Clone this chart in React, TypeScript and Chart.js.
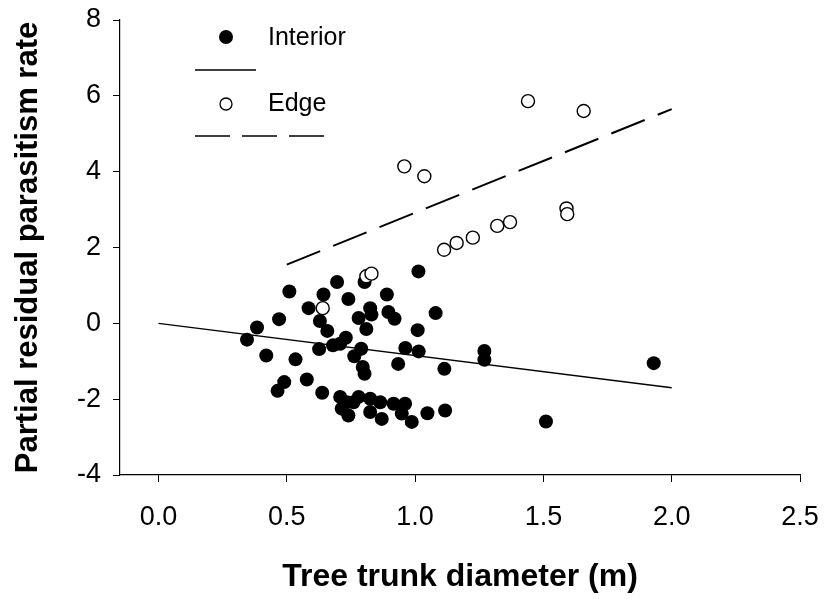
import React, { useEffect, useRef } from "react";
import { Chart, registerables } from "chart.js";

Chart.register(...registerables);

// Interior trees (filled circles)
const interiorX = [
  0.345, 0.384, 0.42, 0.47, 0.464, 0.49, 0.51, 0.534, 0.578, 0.585,
  0.626, 0.629, 0.638, 0.643, 0.658, 0.68, 0.696, 0.708, 0.708, 0.714,
  0.73, 0.734, 0.74, 0.74, 0.76, 0.763, 0.78, 0.78, 0.79, 0.796,
  0.803, 0.803, 0.81, 0.825, 0.83, 0.825, 0.825, 0.864, 0.87, 0.89,
  0.896, 0.916, 0.92, 0.934, 0.948, 0.961, 0.962, 0.987, 1.01, 1.013,
  1.014, 1.048, 1.08, 1.114, 1.117, 1.27, 1.27, 1.51, 1.93,
];
const interiorY = [
  -0.43, -0.11, -0.85, 0.11, -1.78, -1.55, 0.84, -0.95, -1.48, 0.4,
  -0.68, 0.06, -1.83, 0.76, -0.2, -0.58, 1.09, -0.54, -1.94, -2.25,
  -0.38, -2.08, 0.64, -2.43, -2.08, -0.87, 0.14, -1.94, -0.67, -1.15,
  -1.33, 1.09, -0.15, 0.4, 0.23, -1.99, -2.34, -2.08, -2.52, 0.76,
  0.3, -2.12, 0.12, -1.07, -2.38, -2.12, -0.65, -2.6, -0.18, 1.37,
  -0.74, -2.37, 0.27, -1.2, -2.3, -0.73, -0.96, -2.59, -1.05,
];

// Edge trees (open circles)
const edgeX = [0.64, 0.81, 0.83, 0.958, 1.036, 1.113, 1.162, 1.225, 1.32, 1.37, 1.44, 1.59, 1.593, 1.657];
const edgeY = [0.4, 1.24, 1.31, 4.14, 3.88, 1.94, 2.12, 2.26, 2.57, 2.67, 5.86, 3.03, 2.88, 5.6];

// Fitted lines
const interiorFitX = [0, 2.0];
const interiorFitY = [0, -1.7];
const edgeFitX = [0.5, 2.0];
const edgeFitY = [1.55, 5.65];

// Axes
const xTicks = [0, 0.5, 1.0, 1.5, 2.0, 2.5];
const yTicks = [-4, -2, 0, 2, 4, 6, 8];
const legendLabels = ["Interior", "Edge"];
const xTitle = "Tree trunk diameter (m)";
const yTitle = "Partial residual parasitism rate";

const FONT = "'Liberation Sans', Arial, Helvetica, sans-serif";

const toPts = (xs: number[], ys: number[]) => xs.map((x, i) => ({ x, y: ys[i] }));

const legendPlugin = {
  id: "customLegend",
  afterDraw(chart: any) {
    const ctx = chart.ctx;
    ctx.save();
    // Interior marker
    ctx.fillStyle = "#000";
    ctx.beginPath();
    ctx.arc(226, 37, 7, 0, Math.PI * 2);
    ctx.fill();
    ctx.font = `25px ${FONT}`;
    ctx.textBaseline = "middle";
    ctx.textAlign = "left";
    ctx.fillText(legendLabels[0], 268, 38);
    // Interior line
    ctx.strokeStyle = "#000";
    ctx.lineWidth = 1.3;
    ctx.beginPath();
    ctx.moveTo(195, 70);
    ctx.lineTo(256, 70);
    ctx.stroke();
    // Edge marker
    ctx.fillStyle = "#fff";
    ctx.lineWidth = 1.3;
    ctx.beginPath();
    ctx.arc(226, 104, 6, 0, Math.PI * 2);
    ctx.fill();
    ctx.stroke();
    ctx.fillStyle = "#000";
    ctx.fillText(legendLabels[1], 268, 104);
    // Edge dashed line
    ctx.setLineDash([35, 12]);
    ctx.beginPath();
    ctx.moveTo(195, 136);
    ctx.lineTo(325, 136);
    ctx.stroke();
    ctx.restore();
  },
};

export default function App() {
  const ref = useRef<HTMLCanvasElement>(null);
  useEffect(() => {
    if (!ref.current) return;
    Chart.defaults.font.family = FONT;
    Chart.defaults.color = "#000";
    const chart = new Chart(ref.current, {
      type: "scatter",
      data: {
        datasets: [
          {
            label: "Edge",
            data: toPts(edgeX, edgeY),
            pointRadius: 6.5,
            pointBackgroundColor: "#fff",
            pointBorderColor: "#000",
            pointBorderWidth: 1.4,
            showLine: false,
          },
          {
            label: "Interior",
            data: toPts(interiorX, interiorY),
            pointRadius: 7,
            pointBackgroundColor: "#000",
            pointBorderColor: "#000",
            pointBorderWidth: 0,
            showLine: false,
          },
          {
            label: "Interior fit",
            data: toPts(interiorFitX, interiorFitY),
            showLine: true,
            pointRadius: 0,
            borderColor: "#000",
            borderWidth: 1.4,
          },
          {
            label: "Edge fit",
            data: toPts(edgeFitX, edgeFitY),
            showLine: true,
            pointRadius: 0,
            borderColor: "#000",
            borderWidth: 2,
            borderDash: [36, 14],
          },
        ],
      },
      options: {
        animation: false,
        responsive: false,
        events: [],
        layout: { padding: { top: 20, right: 28, left: 0, bottom: 0 } },
        plugins: { legend: { display: false }, tooltip: { enabled: false } },
        scales: {
          x: {
            type: "linear",
            min: -0.15,
            max: 2.5,
            afterBuildTicks: (scale: any) => {
              scale.ticks = xTicks.map((v) => ({ value: v }));
            },
            afterFit: (scale: any) => {
              scale.height = 124;
              scale.paddingLeft = 0;
              scale.paddingRight = 0;
            },
            ticks: {
              font: { size: 27 },
              color: "#000",
              padding: 19,
              maxRotation: 0,
              autoSkip: false,
              callback: (v: any) => Number(v).toFixed(1),
            },
            grid: {
              display: true,
              drawOnChartArea: false,
              drawTicks: true,
              tickLength: 7,
              color: "#000",
            },
            border: { display: true, color: "#000", width: 1.2 },
            title: {
              display: true,
              text: xTitle,
              font: { size: 32, weight: "bold" },
              color: "#000",
              padding: { top: 0, bottom: 3 },
            },
          },
          y: {
            type: "linear",
            min: -4,
            max: 8,
            afterBuildTicks: (scale: any) => {
              scale.ticks = yTicks.map((v) => ({ value: v }));
            },
            afterFit: (scale: any) => {
              scale.width = 120;
              scale.paddingTop = 0;
              scale.paddingBottom = 0;
            },
            ticks: {
              font: { size: 27 },
              color: "#000",
              padding: 12,
              autoSkip: false,
              callback: (v: any) => String(v),
            },
            grid: {
              display: true,
              drawOnChartArea: false,
              drawTicks: true,
              tickLength: 7,
              color: "#000",
            },
            border: { display: true, color: "#000", width: 1.2 },
            title: {
              display: true,
              text: yTitle,
              font: { size: 31, weight: "bold" },
              color: "#000",
              padding: { top: 10, bottom: 0 },
            },
          },
        },
      },
      plugins: [legendPlugin],
    });
    return () => chart.destroy();
  }, []);
  return (
    <div style={{ position: "fixed", left: 0, top: 0, width: 828, height: 599, background: "#fff" }}>
      <canvas ref={ref} width={828} height={599} style={{ display: "block" }} />
    </div>
  );
}
